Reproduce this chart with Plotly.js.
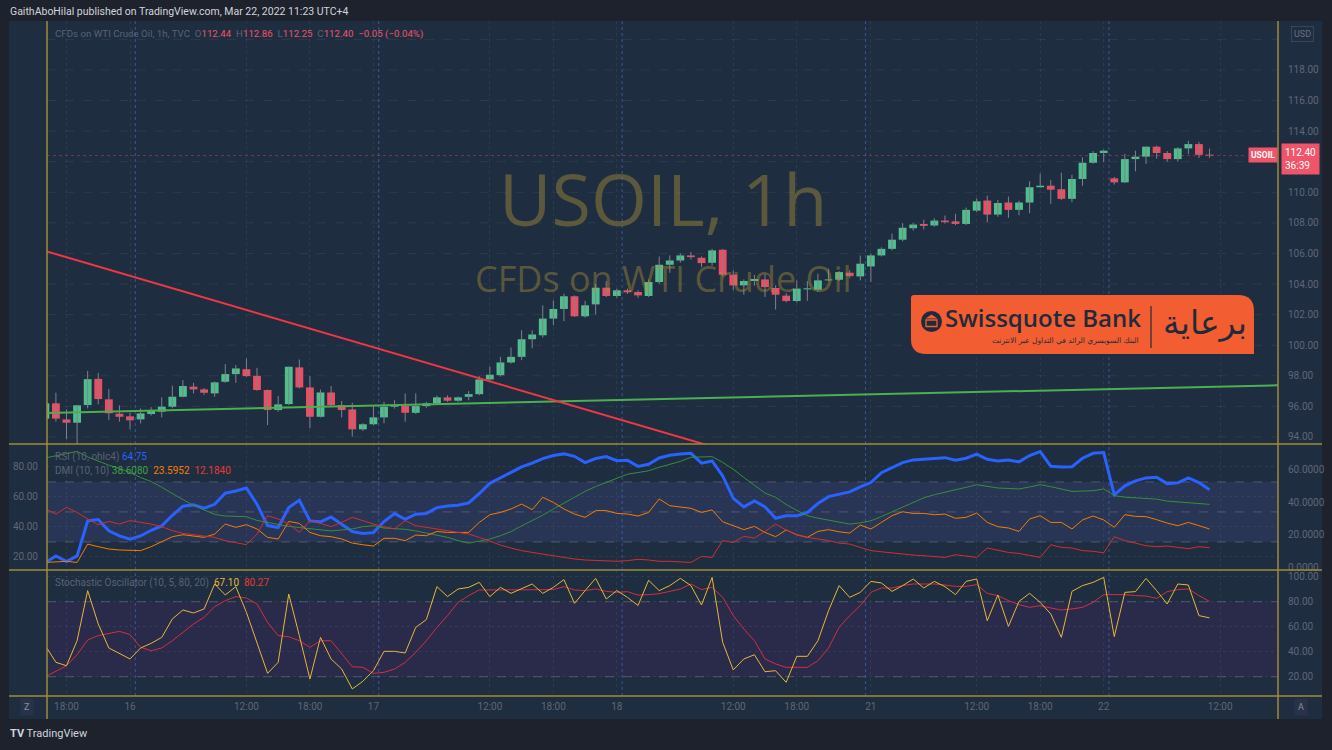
<!DOCTYPE html>
<html><head><meta charset="utf-8">
<script src="https://cdn.plot.ly/plotly-3.0.1.min.js"></script>
<style>html,body{margin:0;padding:0;background:#1e222d;overflow:hidden}#chart{width:1332px;height:750px}</style>
</head><body><div id="chart"></div>
<script>
// ---------- data (hourly bars, index 0 = Mar 16 00:00) ----------
const barStart = -8;
const priceOpen = [95.2,96.2,95.15,94.93,96.09,97.8,96.46,95.52,
95.35,95.15,95.5,95.65,95.98,96.63,97.29,97.11,96.85,97.61,
98.11,98.43,98.0,97.07,95.76,96.15,98.55,97.24,95.32,96.91,
96.09,95.8,94.5,94.83,95.28,95.98,96.04,95.58,96.02,96.2,
96.59,96.37,96.63,96.8,97.76,98.04,98.87,99.24,100.39,100.65,
101.74,102.37,103.2,101.89,102.67,103.76,103.22,103.59,103.48,103.22,
104.13,105.26,105.54,105.87,105.72,105.39,106.24,104.61,103.91,104.2,
104.3,103.74,103.24,102.89,103.65,103.63,104.24,104.28,104.74,104.5,
105.15,105.87,106.3,106.9,107.65,107.93,107.83,108.15,108.1,107.93,
108.8,109.46,108.54,109.33,108.85,109.33,110.33,110.43,110.2,109.57,
110.87,111.93,112.57,110.91,110.65,112.17,112.33,112.98,112.57,112.17,
112.87,113.15,112.44];
const priceHigh = [96.5,96.9,95.8,96.1,98.32,98.19,97.13,96.07,
95.58,95.87,95.95,96.59,97.35,97.72,97.54,97.2,97.63,98.76,
98.7,99.13,98.52,97.1,96.67,98.6,99.07,97.98,97.1,97.33,
96.35,96.24,94.9,96.09,96.3,96.4,96.85,96.85,96.3,96.7,
96.72,96.65,97.0,97.98,98.6,99.24,99.85,100.98,100.98,102.61,
102.93,103.37,103.25,102.9,104.0,104.2,103.7,103.7,103.6,104.3,
105.8,105.87,106.0,106.1,105.8,106.3,106.3,104.89,104.3,104.6,
104.63,103.91,103.4,104.24,104.2,104.67,105.0,104.85,104.9,105.87,
106.0,106.4,107.3,107.98,108.0,108.2,108.3,108.48,108.59,109.0,
109.6,109.78,109.5,109.72,109.45,110.72,111.24,110.8,111.28,111.15,
112.28,112.7,112.8,111.0,112.5,112.72,113.0,113.05,112.7,112.95,
113.37,113.3,112.86];
const priceLow = [95.0,95.0,93.85,93.5,95.87,96.13,95.1,95.0,
94.5,94.89,95.4,95.28,95.87,96.59,96.85,96.76,96.63,97.54,
97.54,97.93,97.02,94.78,95.65,96.1,97.17,94.57,95.28,95.98,
95.28,94.02,94.4,94.76,94.89,95.85,95.0,95.5,95.9,96.15,
96.3,96.3,96.4,96.72,97.7,97.95,98.8,99.02,99.8,100.5,
101.3,101.57,101.85,101.8,102.0,103.15,103.1,103.35,103.1,103.15,
104.0,104.74,105.4,105.6,105.1,105.2,104.5,103.59,103.3,103.9,
103.15,102.33,102.8,102.8,102.9,103.5,104.2,104.2,104.4,104.24,
104.13,105.8,106.2,106.8,107.5,107.57,107.75,107.95,107.85,107.85,
108.7,108.04,108.4,108.33,108.5,108.63,110.3,109.24,109.5,109.35,
110.43,111.87,111.96,110.5,110.6,111.37,111.85,112.2,112.0,112.0,
112.5,112.24,112.25];
const priceClose = [96.2,95.2,94.93,96.07,97.78,96.48,95.55,95.32,
95.09,95.54,95.71,95.98,96.63,97.33,97.11,96.89,97.57,98.11,
98.48,97.98,97.07,95.76,96.13,98.59,97.24,95.32,96.91,96.09,
95.76,94.5,94.83,95.28,95.98,96.05,95.58,96.02,96.2,96.59,
96.37,96.59,96.8,97.76,98.07,98.87,99.24,100.39,100.7,101.74,
102.37,103.2,101.89,102.61,103.76,103.22,103.59,103.46,103.26,104.13,
105.26,105.54,105.87,105.76,105.37,106.2,104.61,103.91,104.2,104.33,
103.8,103.3,102.89,103.7,103.72,104.24,104.3,104.78,104.52,105.33,
105.87,106.3,106.9,107.68,107.89,107.8,108.15,108.04,107.93,108.85,
109.41,108.54,109.3,108.85,109.33,110.33,110.43,110.17,109.57,110.87,
111.93,112.57,112.72,110.65,112.17,112.33,112.98,112.57,112.17,112.87,
113.15,112.45,112.40];

const rsi = [16.2,20.7,16.9,20.7,44.0,44.9,37.4,34.0,
31.8,34.0,37.8,40.7,47.8,53.8,54.7,52.5,55.1,62.5,
64.0,66.0,55.1,40.9,39.6,52.9,57.8,44.0,43.4,46.7,
41.8,36.9,35.6,36.2,43.6,48.9,45.1,48.5,48.9,52.9,
54.0,54.5,56.0,62.2,69.1,72.9,76.5,80.0,82.5,85.6,
87.6,88.7,87.1,82.9,85.6,86.9,84.2,84.5,80.4,81.8,
86.0,87.8,88.7,89.1,82.5,84.0,74.0,59.1,53.4,57.4,
53.4,45.8,47.4,47.4,49.6,55.6,60.2,61.8,63.4,66.7,
69.6,76.2,79.6,82.9,84.7,85.1,85.6,86.2,84.5,85.8,
88.5,85.1,84.0,84.7,83.4,87.6,90.2,80.5,80.0,80.2,
85.8,89.1,89.6,61.4,67.4,70.7,72.7,73.1,68.9,69.4,
72.7,69.6,64.75];
const adx = [66.9,68.3,69.6,70.9,67.5,65.0,62.5,60.5,
58.0,55.0,52.5,49.0,45.0,41.5,38.0,35.0,32.5,31.5,
31.3,31.1,28.8,27.5,26.4,25.2,24.5,23.8,23.3,22.4,
23.0,23.6,25.0,25.6,24.2,23.8,23.4,22.4,21.0,20.0,
18.5,16.5,15.0,16.2,17.5,19.5,22.0,25.5,28.7,32.0,
35.8,39.5,42.9,46.5,49.5,52.0,54.5,57.0,58.0,59.1,
61.2,63.2,64.8,67.3,67.6,67.7,64.2,60.0,55.0,50.0,
45.5,42.9,38.5,35.0,31.7,30.2,29.0,27.5,26.6,27.3,
28.6,31.2,34.0,36.8,39.5,42.6,44.5,45.9,47.5,49.0,
50.6,49.8,48.6,48.3,48.0,49.2,50.6,49.4,47.8,46.5,
46.7,46.9,48.0,43.9,43.0,42.6,42.0,41.8,40.6,40.2,
39.8,39.2,38.608];
const diPlus = [3.2,3.6,3.9,3.2,14.4,12.8,11.4,10.8,
10.4,10.4,12.8,15.8,18.9,20.1,19.5,18.5,20.5,26.6,
24.6,26.2,23.6,18.5,17.5,28.2,27.0,21.5,19.5,18.9,
17.5,15.0,14.0,13.2,17.9,17.9,16.5,19.9,19.5,22.1,
21.5,21.5,21.5,27.6,32.3,33.7,35.8,38.8,35.4,42.9,
39.8,35.8,32.7,30.7,34.8,34.8,33.1,32.7,31.5,33.7,
41.9,37.8,36.8,36.2,33.7,35.2,28.0,25.6,23.2,25.2,
21.5,18.9,23.0,20.1,18.5,22.1,23.2,21.9,21.1,26.0,
23.6,27.6,31.7,34.1,33.1,33.1,32.3,32.7,30.1,30.7,
33.3,27.6,25.0,24.2,22.1,29.7,31.7,27.6,27.6,23.6,
29.1,31.5,29.1,24.6,32.3,31.3,31.1,29.3,27.2,25.6,
27.6,25.6,23.5952];
const diMinus = [35.8,32.7,36.8,33.7,29.7,26.2,28.2,26.6,
28.7,27.6,26.6,25.0,22.6,20.9,20.1,19.5,18.5,16.5,
15.4,14.0,20.5,31.7,29.7,26.6,21.5,28.7,27.0,25.0,
27.6,30.7,28.7,26.6,25.0,23.6,28.7,25.6,24.6,23.6,
22.6,21.5,20.5,18.5,16.0,13.8,12.0,10.4,9.3,8.3,
6.9,6.1,5.3,4.7,4.3,3.9,3.9,4.3,5.1,4.7,
3.9,3.9,3.4,3.2,6.9,6.3,16.5,15.4,19.1,18.1,
22.1,26.6,23.0,20.1,18.5,17.5,16.5,15.0,14.4,12.4,
10.4,9.7,8.9,8.3,7.7,7.3,6.9,6.3,7.9,7.1,
6.3,12.0,10.8,9.3,8.7,7.5,6.3,14.0,12.4,12.0,
10.4,10.0,9.1,18.9,16.5,15.0,13.4,12.8,13.2,12.4,
11.6,12.8,12.184];
const stochK = [44.9,31.5,28.8,48.8,88.9,62.2,43.0,38.7,
34.2,43.0,46.7,51.5,66.2,73.4,71.0,74.2,94.2,85.4,
92.1,71.5,46.2,22.7,31.5,86.2,52.9,18.2,51.5,34.2,
26.2,10.2,16.3,24.8,40.3,40.3,39.0,59.5,65.7,92.1,
84.1,90.2,91.5,95.5,84.1,91.5,86.7,90.2,94.2,86.7,
91.5,97.7,78.7,88.9,98.7,82.2,88.9,83.5,77.0,97.2,
88.9,92.9,98.7,92.9,77.4,99.5,47.5,25.4,34.2,37.6,
24.0,24.8,15.5,36.3,36.3,48.8,72.8,92.9,83.5,87.5,
96.3,95.0,88.3,92.9,98.2,91.0,96.3,92.1,85.7,96.3,
98.2,64.8,85.4,60.3,80.3,86.7,79.5,70.2,51.5,88.3,
92.9,95.5,99.5,52.1,87.5,88.1,98.7,88.9,78.2,94.2,
93.4,68.9,67.10];
const stochD = [20.0,24.3,28.8,37.6,49.4,52.9,54.7,56.3,
53.7,43.5,40.8,43.0,48.8,55.5,62.2,67.5,76.1,80.9,
84.1,83.0,78.2,63.5,52.9,52.0,48.8,43.5,48.8,48.8,
38.2,28.0,27.5,22.7,23.5,26.2,31.5,39.5,48.8,59.5,
68.9,79.5,84.9,89.4,89.4,89.4,89.4,89.7,89.7,89.7,
89.7,92.1,89.4,88.9,90.2,88.3,87.5,88.1,85.3,85.7,
86.5,88.3,90.2,94.2,89.7,91.5,83.5,68.9,58.2,48.8,
34.2,30.2,27.5,27.5,27.5,32.8,43.0,59.5,68.9,76.9,
87.5,91.0,91.0,92.9,94.2,94.2,94.2,93.4,92.3,92.3,
93.7,86.7,84.9,80.9,77.7,75.5,76.9,75.0,73.4,74.2,
75.5,79.5,85.7,85.7,85.7,84.9,84.6,82.7,88.1,89.7,
90.2,84.9,80.27];

// trend lines drawn on the chart (bar index, price)
const trendRedX = [-8, 56];
const trendRedY = [106.16, 93.17];
const trendGreenX = [-8, 108.5];
const trendGreenY = [95.57, 97.38];

// session breaks (between bars) and time-axis ticks
const sessionBreaks = [0.5, 23.5, 46.5, 69.5, 92.5];
const xTickIdx = [-6,0,11,17,23,34,40,46,57,63,70,80,86,92,103];
const xTickText = ['18:00','16','12:00','18:00','17','12:00','18:00','18','12:00','18:00','21','12:00','18:00','22','12:00'];
const priceTicks = [94,96,98,100,102,104,106,108,110,114,116,118]; // 112 / 120 hidden under price tag and USD box
const priceGrid = [94,96,98,100,102,104,106,108,110,112,114,116,118,120];
const rsiTicks = [20,40,60,80];
const dmiTicks = [0,20,40,60];
const stochTicks = [20,40,60,80,100];

// ---------- layout constants ----------
const W = 1332, H = 750;
const px = x => x / W, py = y => 1 - y / H;
const UP = '#4fc08d', DOWN = '#ee4d61', WICK = '#7d828f';
const AX = '#5f6676', GRID = 'rgba(120,130,150,0.16)', YEL = '#a08d36';
const FONT = 'Roboto, "Open Sans", sans-serif';

const idx = priceOpen.map((_, k) => barStart + k);
const n = idx.length;

// wicks
const wx = [], wy = [];
for (let k = 0; k < n; k++) { wx.push(idx[k], idx[k], null); wy.push(priceLow[k], priceHigh[k], null); }
const bodyBase = priceOpen.map((o, k) => Math.min(o, priceClose[k]));
const bodyLen = priceOpen.map((o, k) => Math.max(Math.abs(priceClose[k] - o), 0.06));
const bodyCol = priceOpen.map((o, k) => priceClose[k] >= o ? UP : DOWN);

const traces = [
  {type:'scatter', mode:'lines', x:trendGreenX, y:trendGreenY, xaxis:'x', yaxis:'y', line:{color:'#4caf50', width:2}, hoverinfo:'skip'},
  {type:'scatter', mode:'lines', x:wx, y:wy, xaxis:'x', yaxis:'y', line:{color:WICK, width:1}, hoverinfo:'skip', connectgaps:false},
  {type:'bar', x:idx, base:bodyBase, y:bodyLen, width:0.74, xaxis:'x', yaxis:'y', marker:{color:bodyCol, line:{width:0}}, hoverinfo:'skip'},
  {type:'scatter', mode:'lines', x:trendRedX, y:trendRedY, xaxis:'x', yaxis:'y', line:{color:'#f23645', width:2}, hoverinfo:'skip'},
  // DMI (right axis of indicator pane)
  {type:'scatter', mode:'lines', x:idx, y:adx, xaxis:'x', yaxis:'y3', line:{color:'#388e3c', width:1}, hoverinfo:'skip'},
  {type:'scatter', mode:'lines', x:idx, y:diPlus, xaxis:'x', yaxis:'y3', line:{color:'#f57c00', width:1}, hoverinfo:'skip'},
  {type:'scatter', mode:'lines', x:idx, y:diMinus, xaxis:'x', yaxis:'y3', line:{color:'#d32f2f', width:1}, hoverinfo:'skip'},
  // RSI
  {type:'scatter', mode:'lines', x:idx, y:rsi, xaxis:'x', yaxis:'y2', line:{color:'#2962ff', width:3}, hoverinfo:'skip'},
  // Stochastic
  {type:'scatter', mode:'lines', x:idx, y:stochD, xaxis:'x', yaxis:'y4', line:{color:'#d32f3f', width:1}, hoverinfo:'skip'},
  {type:'scatter', mode:'lines', x:idx, y:stochK, xaxis:'x', yaxis:'y4', line:{color:'#e8b53a', width:1}, hoverinfo:'skip'}
];

const xDom = [px(47), px(1278)];
const tickFont = {family:FONT, size:10, color:AX};

const shapes = [
  {type:'rect', xref:'paper', yref:'paper', x0:px(9), x1:px(1322), y0:py(719), y1:py(21), fillcolor:'#1f2d40', line:{width:0}, layer:'below'},
  {type:'rect', xref:'paper', yref:'y2', x0:xDom[0], x1:xDom[1], y0:30, y1:70, fillcolor:'#283554', line:{width:0}, layer:'below'},
  {type:'rect', xref:'paper', yref:'y4', x0:xDom[0], x1:xDom[1], y0:20, y1:80, fillcolor:'#2a2b4a', line:{width:0}, layer:'below'}
];
// price-pane horizontal grid (every 2.00)
priceGrid.forEach(v => shapes.push({type:'line', xref:'paper', yref:'y', x0:xDom[0], x1:xDom[1], y0:v, y1:v, line:{color:GRID, width:1, dash:'dash'}, layer:'below'}));
[70,50,30].forEach(v => shapes.push({type:'line', xref:'paper', yref:'y2', x0:xDom[0], x1:xDom[1], y0:v, y1:v, line:{color:'rgba(130,135,150,0.45)', width:1, dash:'dash'}, layer:'below'}));
[80,20].forEach(v => shapes.push({type:'line', xref:'paper', yref:'y4', x0:xDom[0], x1:xDom[1], y0:v, y1:v, line:{color:'rgba(130,135,150,0.45)', width:1, dash:'dash'}, layer:'below'}));
sessionBreaks.forEach(b => shapes.push({type:'line', xref:'x', yref:'paper', x0:b, x1:b, y0:py(696), y1:py(21), line:{color:'rgba(70,115,210,0.6)', width:1, dash:'dot'}, layer:'below'}));
// current price line
shapes.push({type:'line', xref:'paper', yref:'y', x0:xDom[0], x1:px(1247), y0:priceClose[n-1], y1:priceClose[n-1], line:{color:'rgba(238,77,97,0.4)', width:1, dash:'dot'}, layer:'below'});
// pane separators
[444,570,696].forEach(y => shapes.push({type:'line', xref:'paper', yref:'paper', x0:px(9), x1:px(1322), y0:py(y), y1:py(y), line:{color:YEL, width:1.5}}));
[47,1278].forEach(x => shapes.push({type:'line', xref:'paper', yref:'paper', x0:px(x), x1:px(x), y0:py(719), y1:py(21), line:{color:YEL, width:1.5}}));

// Swissquote banner
const P = (x,y) => px(x).toFixed(5) + ',' + py(y).toFixed(5);
shapes.push({type:'path', xref:'paper', yref:'paper',
  path:`M${P(914,295)} L${P(1238,295)} Q${P(1254,295)} ${P(1254,311)} L${P(1254,354)} L${P(926,354)} Q${P(911,354)} ${P(911,339)} L${P(911,298)} Q${P(911,295)} ${P(914,295)} Z`,
  fillcolor:'#f25e31', line:{width:0}});
shapes.push({type:'circle', xref:'paper', yref:'paper', x0:px(921), x1:px(942), y0:py(332), y1:py(311), fillcolor:'#1f2b3b', line:{width:0}});
shapes.push({type:'path', xref:'paper', yref:'paper', path:`M${P(925.5,318.5)} L${P(931.5,314.5)} L${P(937.5,318.5)} Z`, fillcolor:'#f25e31', line:{width:0}});
shapes.push({type:'rect', xref:'paper', yref:'paper', x0:px(926), x1:px(937), y0:py(326.5), y1:py(320), fillcolor:'rgba(0,0,0,0)', line:{color:'#f25e31', width:1.3}});
shapes.push({type:'line', xref:'paper', yref:'paper', x0:px(1151), x1:px(1151), y0:py(348), y1:py(306), line:{color:'#1f2b3b', width:1.2}});

const ann = (x, y, text, o) => Object.assign({xref:'paper', yref:'paper', x:px(x), y:py(y), text:text, showarrow:false, xanchor:'left', yanchor:'middle', font:{family:FONT, size:10, color:'#687083'}}, o || {});
const sp = (c, t) => `<span style="color:${c}">${t}</span>`;
const L = n - 1;
const chg = priceClose[L] - priceClose[L-1];
const chgTxt = (chg < 0 ? '\u2212' : '+') + Math.abs(chg).toFixed(2) + ' (' + (chg < 0 ? '\u2212' : '+') + Math.abs(chg / priceClose[L-1] * 100).toFixed(2) + '%)';
const R = '#f05468';
const annotations = [
  ann(8, 11, 'GaithAboHilal published on TradingView.com, Mar 22, 2022 11:23 UTC+4', {font:{family:FONT, size:10.5, color:'#d1d4dc'}}),
  ann(53, 34, 'CFDs on WTI Crude Oil, 1h, TVC&nbsp;&nbsp;O' + sp(R, priceOpen[L].toFixed(2)) + '&nbsp;&nbsp;H' + sp(R, priceHigh[L].toFixed(2)) + '&nbsp;&nbsp;L' + sp(R, priceLow[L].toFixed(2)) + '&nbsp;&nbsp;C' + sp(R, priceClose[L].toFixed(2)) + '&nbsp;&nbsp;' + sp(R, chgTxt), {font:{family:FONT, size:9.7, color:'#5a6273'}}),
  ann(663, 198, 'USOIL, 1h', {xanchor:'center', font:{family:'"Open Sans", sans-serif', size:72, color:'rgba(176,148,54,0.42)'}}),
  ann(663, 278, 'CFDs on WTI Crude Oil', {xanchor:'center', font:{family:'"Open Sans", sans-serif', size:36, color:'rgba(176,148,54,0.42)'}}),
  ann(53, 457, 'RSI (10, ohlc4) ' + sp('#2962ff', rsi[L].toFixed(2)), {font:{family:FONT, size:10, color:'#5a6273'}}),
  ann(53, 471, 'DMI (10, 10) ' + sp('#43a047', adx[L].toFixed(4)) + '&nbsp;&nbsp;' + sp('#f57c00', diPlus[L].toFixed(4)) + '&nbsp;&nbsp;' + sp('#e53935', diMinus[L].toFixed(4)), {font:{family:FONT, size:10, color:'#5a6273'}}),
  ann(53, 583, 'Stochastic Oscillator (10, 5, 80, 20)&nbsp;&nbsp;' + sp('#e8b53a', stochK[L].toFixed(2)) + '&nbsp;&nbsp;' + sp('#e53935', stochD[L].toFixed(2)), {font:{family:FONT, size:10, color:'#5a6273'}}),
  ann(1302, 34, 'USD', {xanchor:'center', bgcolor:'#1f2d40', bordercolor:'#3a4558', borderwidth:1, borderpad:2, font:{family:FONT, size:9, color:'#6a7282'}}),
  ann(1278, 155, '<b>USOIL</b>', {xanchor:'right', bgcolor:R, borderpad:2, font:{family:FONT, size:8.5, color:'#ffffff'}}),
  ann(1281, 159, '112.40<br>36:39', {align:'left', bgcolor:R, borderpad:3, font:{family:FONT, size:10, color:'#ffffff'}}),
  ann(27, 707, 'Z', {xanchor:'center', bgcolor:'#28334a', borderpad:3, font:{family:FONT, size:9, color:'#8a909c'}}),
  ann(1301, 707, 'A', {xanchor:'center', bgcolor:'#28334a', borderpad:3, font:{family:FONT, size:9, color:'#8a909c'}}),
  ann(8, 733, '<b>TV</b> TradingView', {font:{family:FONT, size:11, color:'#d1d4dc'}}),
  // banner text
  ann(943, 318, 'Swissquote Bank', {font:{family:'"Open Sans", sans-serif', size:24, color:'#1f2b3b', weight:600}}),
  ann(1141, 340, 'البنك السويسري الرائد في التداول عبر الانترنت', {xanchor:'right', font:{family:'"DejaVu Sans", sans-serif', size:7.5, color:'#1f2b3b'}}),
  ann(1205, 322, 'برعاية', {xanchor:'center', font:{family:'"DejaVu Sans", sans-serif', size:33, color:'#1f2b3b'}})
];

const layout = {
  width: W, height: H,
  margin: {l:0, r:0, t:0, b:0},
  paper_bgcolor: '#1e222d', plot_bgcolor: 'rgba(0,0,0,0)',
  showlegend: false, hovermode: false, dragmode: false,
  xaxis: {domain:xDom, range:[-7.843, 108.47], anchor:'y4', tickmode:'array', tickvals:xTickIdx, ticktext:xTickText,
          tickfont:tickFont, showgrid:true, gridcolor:GRID, griddash:'dot', zeroline:false, showline:false, ticks:'', ticklabelstandoff:3},
  yaxis: {domain:[py(444), py(21)], range:[93.54, 121.2], side:'right', anchor:'x', tickmode:'array', tickvals:priceTicks,
          ticktext:priceTicks.map(v => v.toFixed(2)), tickfont:tickFont, showgrid:false, zeroline:false, ticks:'', ticklabelstandoff:9},
  yaxis2: {domain:[py(570), py(444)], range:[11.3, 95.3], side:'left', anchor:'x', tickmode:'array', tickvals:rsiTicks,
           ticktext:rsiTicks.map(v => v.toFixed(2)), tickfont:tickFont, showgrid:true, gridcolor:GRID, griddash:'dot', zeroline:false, ticks:'', ticklabelstandoff:8},
  yaxis3: {overlaying:'y2', range:[-1.4, 75.4], side:'right', anchor:'x', tickmode:'array', tickvals:dmiTicks,
           ticktext:dmiTicks.map(v => v.toFixed(4)), tickfont:tickFont, showgrid:false, zeroline:false, ticks:'', ticklabelstandoff:9},
  yaxis4: {domain:[py(696), py(570)], range:[4.56, 105.4], side:'right', anchor:'x', tickmode:'array', tickvals:stochTicks,
           ticktext:stochTicks.map(v => v.toFixed(2)), tickfont:tickFont, showgrid:true, gridcolor:GRID, griddash:'dot', zeroline:false, ticks:'', ticklabelstandoff:9},
  shapes: shapes,
  annotations: annotations
};

Plotly.newPlot('chart', traces, layout, {displayModeBar:false, staticPlot:true});
</script></body></html>
